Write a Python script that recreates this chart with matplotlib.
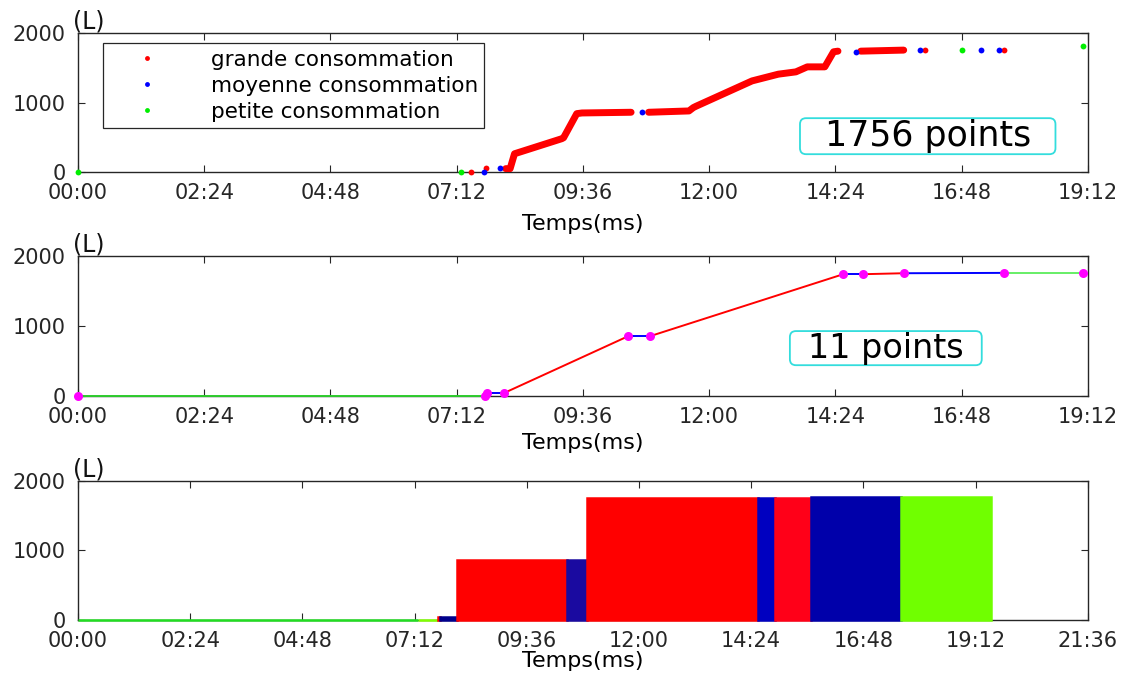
"""
Consommation cumulée (L) au fil de la journée : points bruts, points retenus, barres.
"""
import matplotlib
matplotlib.use("Agg")
import matplotlib.pyplot as plt
from matplotlib.lines import Line2D
from matplotlib.patches import FancyBboxPatch
from matplotlib.ticker import FuncFormatter, MultipleLocator

plt.rcParams['font.family'] = ['DejaVu Sans']

# --- panel 1 : 1756 points (time in minutes, volume in L) ---
# dense stretches of red points, read as polylines
red_runs = [
    ([488, 493, 498, 552, 554, 569, 575, 631],
     [50, 50, 264, 481, 495, 841, 851, 861]),
    ([651, 697, 702, 705, 769, 799, 819, 832, 852, 862, 867],
     [861, 880, 928, 947, 1312, 1409, 1442, 1514, 1514, 1731, 1740]),
    ([893, 942], [1740, 1755]),
]
red_t = [448, 466, 966, 1056]
red_v = [0, 53, 1755, 1755]
blue_t = [463.6, 482, 643.5, 888, 961, 1030, 1051]
blue_v = [0, 53, 861, 1731, 1755, 1755, 1755]
green_t = [0, 437, 1009, 1147]
green_v = [0, 0, 1755, 1812]
legend_labels = ['grande consommation', 'moyenne consommation', 'petite consommation']

# --- panel 2 : 11 points ---
pts_t = [0, 464, 467, 486.5, 628, 653, 873, 895, 942, 1056, 1146]
pts_v = [0, 0, 48, 48, 857, 857, 1738, 1738, 1752, 1757, 1757]
seg_colors = ['#2ecc2e', '#0000ff', '#0000ff', '#ff0000', '#0000ff',
              '#ff0000', '#0000ff', '#ff0000', '#0000ff', '#66ee66']

# --- panel 3 : bars ---
bar_left = [0, 437, 462, 464, 486, 628, 653, 873, 895, 941, 1056]
bar_right = [437, 462, 464, 486, 628, 653, 873, 895, 941, 1056, 1172]
bar_height = [0, 0, 48, 48, 865, 865, 1748, 1748, 1760, 1772, 1772]
bar_colors = ['#22dd22', '#80ff00', '#ff0000', '#00008b', '#ff0000', '#1a0aa0',
              '#ff0000', '#0000c0', '#ff0018', '#0000aa', '#70ff00']


def hhmm(v, pos):
    m = int(round(v))
    return f"{m // 60:02d}:{m % 60:02d}"


def style_axes(ax, xmax):
    ax.set_xlim(0, xmax)
    ax.set_ylim(0, 2000)
    ax.xaxis.set_major_locator(MultipleLocator(144))
    ax.xaxis.set_major_formatter(FuncFormatter(hhmm))
    ax.set_yticks([0, 1000, 2000])
    ax.tick_params(direction='in', top=True, right=True, length=5,
                   labelsize=15, color='#262626', labelcolor='#262626')
    ax.tick_params(axis='x', pad=8)
    ax.tick_params(axis='y', pad=9)
    for s in ax.spines.values():
        s.set_color('#262626')
        s.set_linewidth(1.0)
    ax.text(-0.005, 0.995, '(L)', transform=ax.transAxes, ha='left', va='bottom',
            fontsize=17, color='#111111')


def count_box(ax, x0, y0, x1, y1, label, size):
    # rounded cyan frame in axes fraction, corners kept round despite the flat axes
    bb = ax.get_position()
    aspect = (bb.width * 11.22) / (bb.height * 6.75)
    ax.add_patch(FancyBboxPatch((x0, y0), x1 - x0, y1 - y0, transform=ax.transAxes,
                                boxstyle='round,pad=0,rounding_size=0.006',
                                mutation_aspect=aspect, fc='white', ec='#33dddd',
                                lw=1.3, zorder=5))
    ax.text((x0 + x1) / 2, (y0 + y1) / 2, label, transform=ax.transAxes,
            ha='center', va='center', fontsize=size, zorder=6)


fig = plt.figure(figsize=(11.22, 6.75), dpi=100)
ax1 = fig.add_axes([0.0695, 0.745, 0.900, 0.206])
ax2 = fig.add_axes([0.0695, 0.413, 0.900, 0.208])
ax3 = fig.add_axes([0.0695, 0.0815, 0.900, 0.206])

# Panel 1
for t, v in red_runs:
    ax1.plot(t, v, '-', color='red', lw=5, solid_capstyle='round', zorder=3)
ax1.plot(red_t, red_v, 'o', color='red', ms=4.2, mec='none', zorder=3, clip_on=False)
ax1.plot(blue_t, blue_v, 'o', color='blue', ms=4.2, mec='none', zorder=4, clip_on=False)
ax1.plot(green_t, green_v, 'o', color='#00ee00', ms=4.2, mec='none', zorder=4, clip_on=False)
style_axes(ax1, 1152)
ax1.set_xlabel('Temps(ms)', fontsize=16, labelpad=8)
handles = [Line2D([], [], ls='none', marker='o', ms=3.5, mec='none', color=c)
           for c in ['red', 'blue', '#00ee00']]
leg = ax1.legend(handles, legend_labels, loc='upper left', bbox_to_anchor=(0.0248, 0.928),
                 borderaxespad=0, fontsize=15.5, fancybox=False, edgecolor='#262626',
                 framealpha=1, handlelength=3.5, handletextpad=1.2, borderpad=0.3,
                 labelspacing=0.28)
leg.get_frame().set_linewidth(0.9)
count_box(ax1, 0.715, 0.129, 0.968, 0.388, '1756 points', 25)

# Panel 2
for i in range(len(pts_t) - 1):
    ax2.plot(pts_t[i:i + 2], pts_v[i:i + 2], '-', color=seg_colors[i], lw=1.4,
             zorder=3, clip_on=False)
ax2.plot(pts_t, pts_v, 'o', color='#ff00ff', ms=6.5, mec='none', zorder=4, clip_on=False)
style_axes(ax2, 1152)
ax2.set_xlabel('Temps(ms)', fontsize=16, labelpad=4)
count_box(ax2, 0.705, 0.221, 0.895, 0.464, '11 points', 24)

# Panel 3
widths = [r - l for l, r in zip(bar_left, bar_right)]
bars = ax3.bar(bar_left, bar_height, width=widths, align='edge', color=bar_colors,
               edgecolor=bar_colors, linewidth=1.8, zorder=3)
for b in bars:
    b.set_clip_on(False)
style_axes(ax3, 1296)
ax3.set_xlabel('Temps(ms)', fontsize=16, labelpad=0)

fig.savefig('out.png', dpi=100)
